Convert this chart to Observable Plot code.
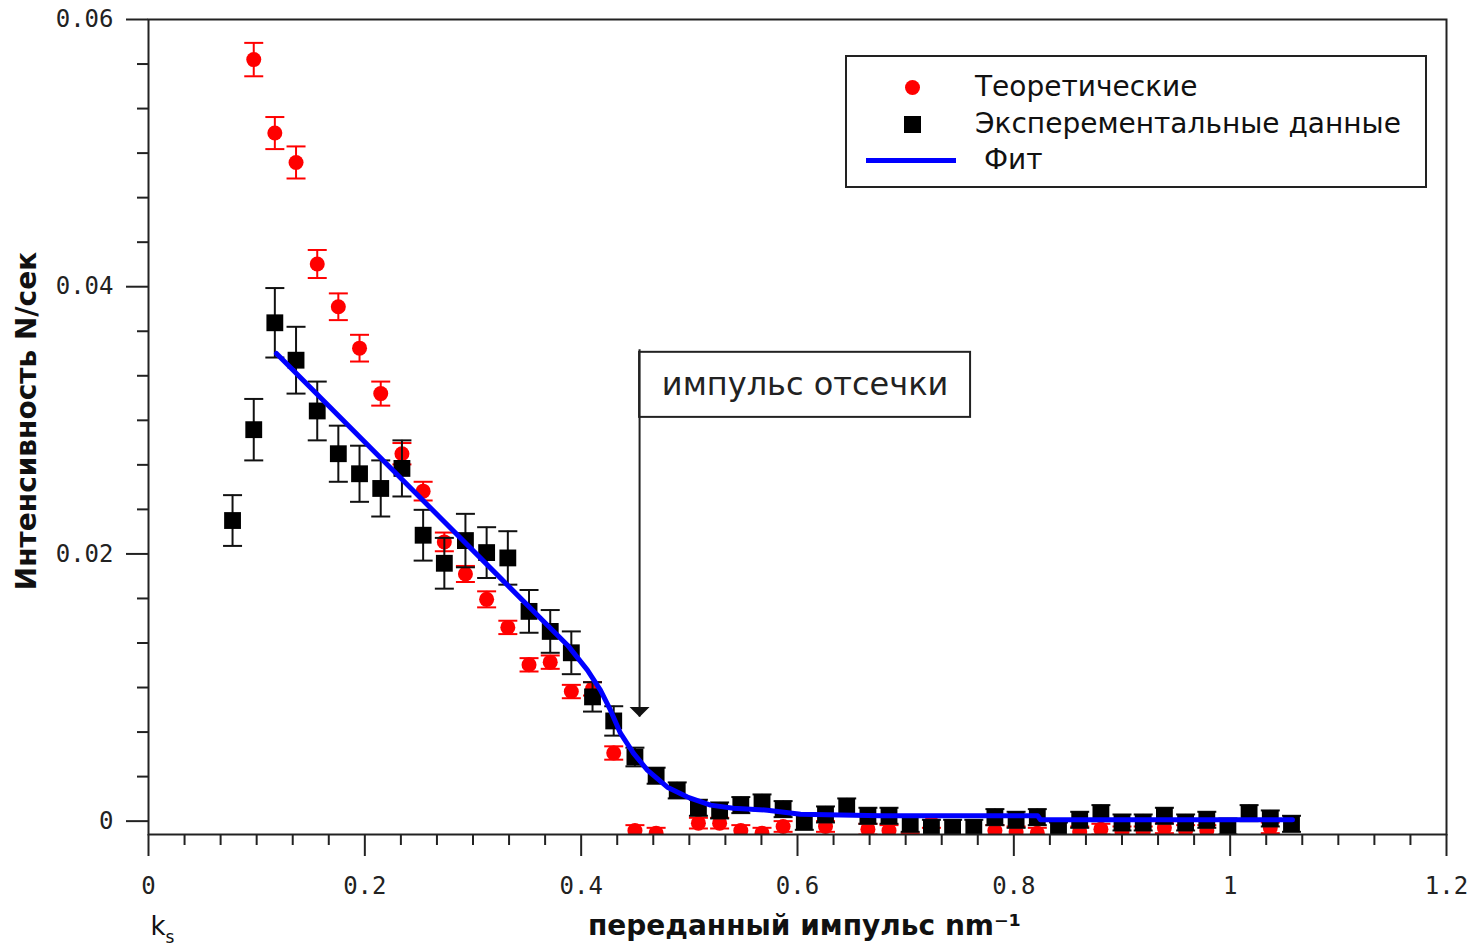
<!DOCTYPE html>
<html>
<head>
<meta charset="utf-8">
<script src="https://cdn.jsdelivr.net/npm/d3@7"></script>
<script src="https://cdn.jsdelivr.net/npm/@observablehq/plot@0.6"></script>
<style>
  body { margin: 0; background: #fff; }
  #wrap { position: relative; width: 1472px; height: 945px; font-family: "DejaVu Sans", sans-serif; }
  .legend { position: absolute; left: 845px; top: 55px; width: 578px; height: 129px; border: 2px solid #222; background: #fff; }
  .legend .lt { position: absolute; font-size: 28px; color: #111; line-height: 1; white-space: pre; transform: translateY(-50%); }
  .legend .sym { position: absolute; }
</style>
</head>
<body>
<div id="wrap"></div>
<script>
// ---- data ----
const xs = [0.0777,0.0973,0.1168,0.1364,0.156,0.1755,0.1951,0.2147,0.2343,0.2539,0.2735,0.293,0.3126,0.3322,0.3518,0.3714,0.3909,0.4105,0.4301,0.4497,0.4693,0.4888,0.5084,0.528,0.5476,0.5672,0.5867,0.6063,0.6259,0.6455,0.6651,0.6846,0.7042,0.7238,0.7434,0.763,0.7825,0.8021,0.8217,0.8413,0.8609,0.8805,0.9,0.9196,0.9392,0.9588,0.9784,0.9979,1.0175,1.0371,1.0567];
const expY = [0.0225,0.0293,0.0373,0.0345,0.0307,0.0275,0.026,0.0249,0.0264,0.0214,0.0193,0.021,0.0201,0.0197,0.0157,0.0142,0.0126,0.0093,0.0075,0.0048,0.0034,0.0023,0.001,0.0008,0.0012,0.0014,0.0009,-0.00005,0.0005,0.0011,0.0004,0.0004,-0.0002,-0.0005,-0.0005,-0.0005,0.0003,0.0001,0.0003,-0.0007,0.0001,0.0006,-0.0001,-0.0001,0.0004,-0.0001,0.0001,-0.0004,0.0006,0.0002,-0.0002];
const expErr = [0.0019,0.0023,0.0026,0.0025,0.0022,0.0021,0.0021,0.0021,0.0021,0.0019,0.0019,0.002,0.0019,0.002,0.0016,0.0016,0.0016,0.0011,0.0011,0.0007,0.0006,0.0006,0.0006,0.0006,0.0006,0.0006,0.0006,0.0006,0.0006,0.0006,0.0006,0.0006,0.0006,0.0006,0.0006,0.0006,0.0006,0.0006,0.0006,0.0006,0.0006,0.0006,0.0006,0.0006,0.0006,0.0006,0.0006,0.0006,0.0006,0.0006,0.0006];
// theoretical values start at the second x position
const theoY = [0.057,0.0515,0.0493,0.0417,0.0385,0.0354,0.032,0.0275,0.0247,0.0209,0.0185,0.0166,0.0145,0.0117,0.0119,0.0097,0.0099,0.0051,-0.0007,-0.0009,-0.0016,-0.00015,-0.00015,-0.0007,-0.0009,-0.0004,-0.0016,-0.0004,-0.0016,-0.0006,-0.0007,-0.0013,-0.0001,-0.0016,-0.0016,-0.0007,-0.0008,-0.0009,-0.0016,-0.0008,-0.0006,-0.0008,-0.0008,-0.0005,-0.0007,-0.0007,-0.0016,-0.0016,-0.0005,-0.0016];
const theoErr = [0.00125,0.0012,0.0012,0.00105,0.001,0.001,0.0009,0.0008,0.0007,0.0007,0.0006,0.0006,0.0005,0.0005,0.0005,0.0005,0.0005,0.0005,0.0004,0.0004,0.0004,0.0004,0.0004,0.0004,0.0004,0.0004,0.0004,0.0004,0.0004,0.0004,0.0004,0.0004,0.0004,0.0004,0.0004,0.0004,0.0004,0.0004,0.0004,0.0004,0.0004,0.0004,0.0004,0.0004,0.0004,0.0004,0.0004,0.0004,0.0004,0.0004];
const fitX = [0.1183,0.3624,0.3874,0.4058,0.4178,0.4271,0.4363,0.4483,0.4612,0.4797,0.4983,0.5196,0.5408,0.5723,0.6028,0.677,0.822,0.8246,1.0576];
const fitY = [0.035,0.01519,0.01317,0.0113,0.0098,0.0083,0.00658,0.00509,0.00382,0.00254,0.0018,0.0012,0.00097,0.00082,0.00052,0.0004,0.0004,0.0001,0.0001];

const xMajor = [0, 0.2, 0.4, 0.6, 0.8, 1, 1.2];
const yMajor = [0, 0.02, 0.04, 0.06];

const seriesNames = ["Теоретические", "Эксперементальные данные", " Фит"];
const xTitle = "переданный импульс nm⁻¹";
const yTitle = "Интенсивность N/сек";
const cutoffLabel = "импульс отсечки";
const cutoffX = 0.454;          // cutoff momentum marked by the arrow
const cutoffArrowY = 0.0078;    // arrow tip
const labelBox = {x1: 0.454, x2: 0.760, y1: 0.03022, y2: 0.03509};

// ---- derived tables ----
const exp = xs.map((x, i) => ({x, y: expY[i], e: expErr[i]}));
const theo = theoY.map((y, i) => ({x: xs[i + 1], y, e: theoErr[i]}));
const fit = fitX.map((x, i) => ({x, y: fitY[i]}));
const xMinor = d3.range(0, 1.2001, 0.2 / 6).filter(v => !xMajor.some(m => Math.abs(m - v) < 1e-6));
const yMinor = d3.range(0, 0.06001, 0.02 / 6).filter(v => !yMajor.some(m => Math.abs(m - v) < 1e-9));

const cap = {draw(ctx) { ctx.moveTo(-9.5, 0); ctx.lineTo(9.5, 0); }};
const arrowHead = {draw(ctx) { ctx.moveTo(-10, -10); ctx.lineTo(10, -10); ctx.lineTo(0, 0); ctx.closePath(); }};

const errMarks = (data, color) => [
  Plot.ruleX(data, {x: "x", y1: d => d.y - d.e, y2: d => d.y + d.e, stroke: color, strokeWidth: 2, clip: true}),
  Plot.dot(data, {x: "x", y: d => d.y + d.e, symbol: cap, stroke: color, strokeWidth: 2, fill: "none", clip: true}),
  Plot.dot(data, {x: "x", y: d => d.y - d.e, symbol: cap, stroke: color, strokeWidth: 2, fill: "none", clip: true})
];

const tickFont = {fontFamily: "DejaVu Sans Mono", fontSize: 24, tickFormat: d => String(d)};

const chart = Plot.plot({
  width: 1472, height: 945,
  marginLeft: 148, marginRight: 26, marginTop: 19, marginBottom: 111,
  style: {fontFamily: "DejaVu Sans", color: "#222", background: "white", overflow: "visible"},
  x: {domain: [0, 1.2], axis: null},
  y: {domain: [-0.001, 0.06], axis: null},
  marks: [
    // axes
    Plot.axisX(xMinor, {anchor: "bottom", tickSize: 11, tickFormat: () => "", strokeWidth: 2}),
    Plot.axisX(xMajor, {anchor: "bottom", tickSize: 22, tickPadding: 20, strokeWidth: 2, ...tickFont}),
    Plot.axisY(yMinor, {anchor: "left", tickSize: 11, tickFormat: () => "", strokeWidth: 2}),
    Plot.axisY(yMajor, {anchor: "left", tickSize: 22, tickPadding: 13, strokeWidth: 2, ...tickFont}),
    // theoretical
    ...errMarks(theo, "#ff0000"),
    Plot.dot(theo, {x: "x", y: "y", r: 7.5, fill: "#ff0000", stroke: "none", clip: true}),
    // experimental
    ...errMarks(exp, "#111"),
    Plot.dot(exp, {x: "x", y: "y", symbol: "square", r: 9.5, fill: "#000", stroke: "none", clip: true}),
    // fit
    Plot.line(fit, {x: "x", y: "y", stroke: "#0000ff", strokeWidth: 5, clip: true}),
    // cutoff annotation
    Plot.rect([labelBox], {x1: "x1", x2: "x2", y1: "y1", y2: "y2", fill: "white", stroke: "#222", strokeWidth: 2}),
    Plot.ruleX([cutoffX], {y1: cutoffArrowY, y2: labelBox.y2 + 0.0002, stroke: "#222", strokeWidth: 2}),
    Plot.dot([cutoffX], {x: d => d, y: cutoffArrowY, symbol: arrowHead, fill: "#111", stroke: "none"}),
    Plot.text([cutoffLabel], {x: (labelBox.x1 + labelBox.x2) / 2, y: (labelBox.y1 + labelBox.y2) / 2, text: d => d, fontSize: 32, fill: "#222"}),
    // axis titles
    Plot.text([yTitle], {frameAnchor: "left", text: d => d, rotate: -90, textAnchor: "middle", dx: -121, dy: -6, fontSize: 28, fontWeight: "bold", fill: "#111"}),
    Plot.text([xTitle], {frameAnchor: "bottom", text: d => d, textAnchor: "middle", dx: 7, dy: 100, fontSize: 28, fontWeight: "bold", fill: "#111"}),
    Plot.text(["k"], {frameAnchor: "bottom-left", text: d => d, dx: 2, dy: 100, textAnchor: "start", fontSize: 26, fill: "#111"}),
    Plot.text(["s"], {frameAnchor: "bottom-left", text: d => d, dx: 17, dy: 108, textAnchor: "start", fontSize: 17, fill: "#111"}),
    Plot.frame({stroke: "#222", strokeWidth: 2})
  ]
});

const wrap = document.getElementById("wrap");
wrap.appendChild(chart);

// legend (inside the plot area, top right)
const legend = document.createElement("div");
legend.className = "legend";
legend.innerHTML = `
  <div class="sym" style="left:58px;top:23px;width:15px;height:15px;border-radius:50%;background:#ff0000"></div>
  <div class="lt" style="left:128px;top:30px">${seriesNames[0]}</div>
  <div class="sym" style="left:57px;top:59px;width:17px;height:17px;background:#000"></div>
  <div class="lt" style="left:128px;top:67px">${seriesNames[1]}</div>
  <div class="sym" style="left:19px;top:101px;width:90px;height:5px;background:#0000ff"></div>
  <div class="lt" style="left:128px;top:103px">${seriesNames[2]}</div>`;
wrap.appendChild(legend);
</script>
</body>
</html>
